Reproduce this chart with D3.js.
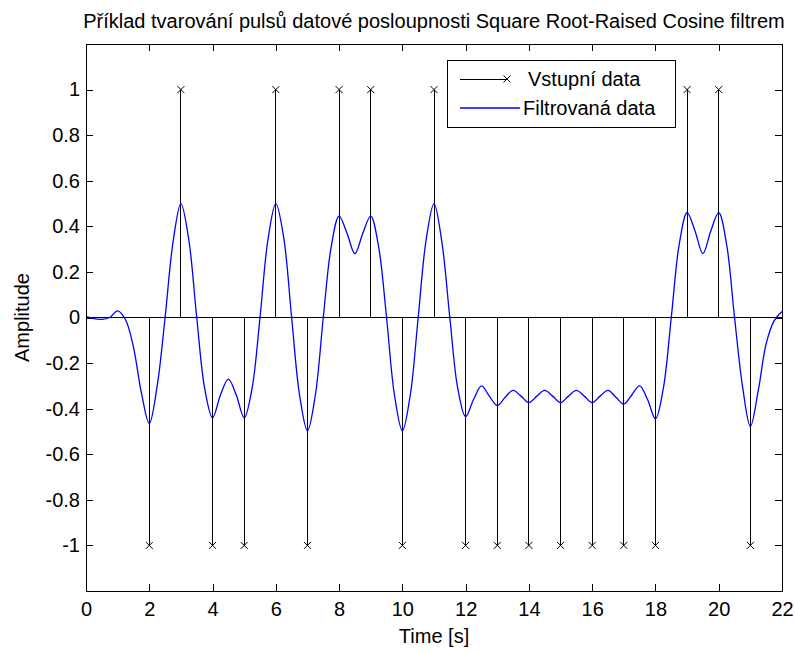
<!DOCTYPE html>
<html>
<head>
<meta charset="utf-8">
<script src="https://cdn.jsdelivr.net/npm/d3@7"></script>
<style>
  html, body { margin: 0; padding: 0; background: #fff; }
  svg { display: block; }
  text { font-family: "Liberation Sans", Arial, sans-serif; fill: #000; }
</style>
</head>
<body>
<svg id="chart" width="795" height="653"></svg>
<script>
// Input symbols (stem plot)
const inputTimes  = [2, 3, 4, 5, 6, 7, 8, 9, 10, 11, 12, 13, 14, 15, 16, 17, 18, 19, 20, 21];
const inputValues = [-1, 1, -1, -1, 1, -1, 1, 1, -1, 1, -1, -1, -1, -1, -1, -1, -1, 1, 1, -1];

// Filtered signal, sampled every 0.25 s from 0 to 22 s
const filteredStep = 0.25;
const filteredValues = [
  0.005, -0.005, -0.008, 0.0, 0.029, -0.01, -0.13, -0.33,      // 0 .. 1.75
  -0.465, -0.30, 0.0, 0.33, 0.50, 0.34, 0.0, -0.31,            // 2 .. 3.75
  -0.44, -0.34, -0.27, -0.34, -0.44, -0.31, 0.0, 0.34,         // 4 .. 5.75
  0.50, 0.35, 0.0, -0.34, -0.497, -0.34, 0.0, 0.31,            // 6 .. 7.75
  0.445, 0.37, 0.28, 0.37, 0.445, 0.31, 0.0, -0.34,            // 8 .. 9.75
  -0.497, -0.34, 0.0, 0.34, 0.50, 0.33, 0.0, -0.31,            // 10 .. 11.75
  -0.435, -0.36, -0.30, -0.345, -0.386, -0.35, -0.32, -0.345,  // 12 .. 13.75
  -0.373, -0.345, -0.32, -0.345, -0.373, -0.345, -0.32, -0.345,// 14 .. 15.75
  -0.373, -0.345, -0.32, -0.35, -0.38, -0.34, -0.30, -0.36,    // 16 .. 17.75
  -0.445, -0.31, 0.0, 0.32, 0.46, 0.38, 0.28, 0.38,            // 18 .. 19.75
  0.46, 0.32, 0.0, -0.30, -0.478, -0.32, -0.115, -0.015,       // 20 .. 21.75
  0.026                                                        // 22
];

// Axis settings
const xDomain = [0, 22];
const yDomain = [-1.2, 1.2];
const xTicks = [0, 2, 4, 6, 8, 10, 12, 14, 16, 18, 20, 22];
const yTicks = [-1, -0.8, -0.6, -0.4, -0.2, 0, 0.2, 0.4, 0.6, 0.8, 1];

const titleText = "Příklad tvarování pulsů datové posloupnosti Square Root-Raised Cosine filtrem";
const xLabel = "Time [s]";
const yLabel = "Amplitude";
const legendLabels = ["Vstupní data", "Filtrovaná data"];

const svg = d3.select("#chart");
const plot = { left: 86, top: 44, right: 782, bottom: 591 };
const FONT = 20;

const x = d3.scaleLinear().domain(xDomain).range([plot.left, plot.right]);
const y = d3.scaleLinear().domain(yDomain).range([plot.bottom, plot.top]);

const fmt = d => String(+d.toFixed(1));

// Axes with inward ticks on all four sides
const tick = 7;
const gx = svg.append("g").attr("transform", `translate(0,${plot.bottom})`)
  .call(d3.axisBottom(x).tickValues(xTicks).tickFormat(fmt).tickSize(-tick).tickPadding(11));
const gxt = svg.append("g").attr("transform", `translate(0,${plot.top})`)
  .call(d3.axisTop(x).tickValues(xTicks).tickFormat("").tickSize(-tick));
const gy = svg.append("g").attr("transform", `translate(${plot.left},0)`)
  .call(d3.axisLeft(y).tickValues(yTicks).tickFormat(fmt).tickSize(-tick).tickPadding(6));
const gyr = svg.append("g").attr("transform", `translate(${plot.right},0)`)
  .call(d3.axisRight(y).tickValues(yTicks).tickFormat("").tickSize(-tick));

[gx, gxt, gy, gyr].forEach(g => {
  g.select(".domain").remove();
  g.selectAll("line").attr("stroke", "#000").attr("shape-rendering", "crispEdges");
  g.selectAll("text").attr("font-size", FONT).attr("font-family", "Liberation Sans, Arial, sans-serif").attr("fill", "#000");
});

// Stem baseline
svg.append("line")
  .attr("x1", x(xDomain[0])).attr("x2", x(xDomain[1]))
  .attr("y1", y(0)).attr("y2", y(0))
  .attr("stroke", "#000").attr("shape-rendering", "crispEdges");

// Stems
const stems = inputTimes.map((t, i) => ({ t, v: inputValues[i] }));
svg.append("g").selectAll("line").data(stems).join("line")
  .attr("x1", d => x(d.t)).attr("x2", d => x(d.t))
  .attr("y1", y(0)).attr("y2", d => y(d.v))
  .attr("stroke", "#000").attr("shape-rendering", "crispEdges");

// 'x' markers
const m = 3.5;
const crossPath = (cx, cy) => `M${cx - m},${cy - m}L${cx + m},${cy + m}M${cx - m},${cy + m}L${cx + m},${cy - m}`;
svg.append("g").selectAll("path").data(stems).join("path")
  .attr("d", d => crossPath(x(d.t), y(d.v)))
  .attr("stroke", "#000").attr("stroke-width", 1).attr("fill", "none");

// Filtered signal
const filtered = filteredValues.map((v, i) => ({ t: i * filteredStep, v }));
svg.append("path").datum(filtered)
  .attr("fill", "none").attr("stroke", "#0000ff").attr("stroke-width", 1.3)
  .attr("d", d3.line().x(d => x(d.t)).y(d => y(d.v)).curve(d3.curveCatmullRom.alpha(0.5)));

// Axes box
svg.append("rect")
  .attr("x", plot.left).attr("y", plot.top)
  .attr("width", plot.right - plot.left).attr("height", plot.bottom - plot.top)
  .attr("fill", "none").attr("stroke", "#000").attr("shape-rendering", "crispEdges");

// Title and axis labels
svg.append("text").attr("x", (plot.left + plot.right) / 2).attr("y", 28)
  .attr("text-anchor", "middle").attr("font-size", FONT).text(titleText);
svg.append("text").attr("x", (plot.left + plot.right) / 2).attr("y", 643)
  .attr("text-anchor", "middle").attr("font-size", FONT).text(xLabel);
svg.append("text").attr("transform", `translate(29,${y(0)}) rotate(-90)`)
  .attr("text-anchor", "middle").attr("font-size", FONT).text(yLabel);

// Legend
const lg = svg.append("g");
lg.append("rect").attr("x", 447).attr("y", 60).attr("width", 228).attr("height", 67)
  .attr("fill", "#fff").attr("stroke", "#000").attr("shape-rendering", "crispEdges");
lg.append("line").attr("x1", 460).attr("x2", 507).attr("y1", 79).attr("y2", 79)
  .attr("stroke", "#000").attr("shape-rendering", "crispEdges");
lg.append("path").attr("d", crossPath(507, 79)).attr("stroke", "#000").attr("fill", "none");
lg.append("text").attr("x", 528).attr("y", 86).attr("font-size", FONT).text(legendLabels[0]);
lg.append("line").attr("x1", 460).attr("x2", 520).attr("y1", 108).attr("y2", 108)
  .attr("stroke", "#0000ff").attr("stroke-width", 1.3);
lg.append("text").attr("x", 523).attr("y", 115).attr("font-size", FONT).text(legendLabels[1]);
</script>
</body>
</html>
